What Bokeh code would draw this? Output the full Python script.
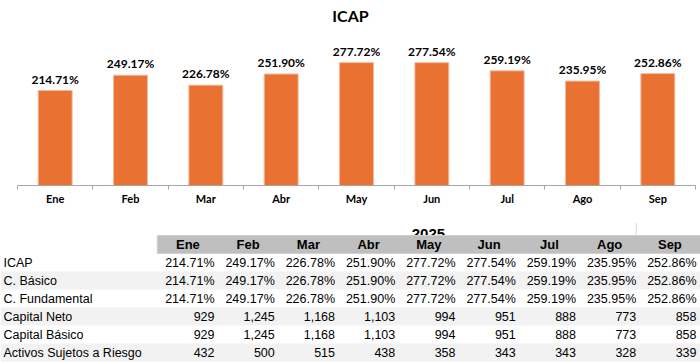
import numpy as np
from bokeh.plotting import figure
from bokeh.layouts import column
from bokeh.models import FixedTicker, Range1d, ColumnDataSource
from bokeh.core.properties import value
from bokeh.embed import file_html
from bokeh.resources import INLINE

# ---------------- data ----------------
months = ["Ene", "Feb", "Mar", "Abr", "May", "Jun", "Jul", "Ago", "Sep"]
icap = [214.71, 249.17, 226.78, 251.90, 277.72, 277.54, 259.19, 235.95, 252.86]
c_basico = [214.71, 249.17, 226.78, 251.90, 277.72, 277.54, 259.19, 235.95, 252.86]
c_fundamental = [214.71, 249.17, 226.78, 251.90, 277.72, 277.54, 259.19, 235.95, 252.86]
capital_neto = [929, 1245, 1168, 1103, 994, 951, 888, 773, 858]
capital_basico = [929, 1245, 1168, 1103, 994, 951, 888, 773, 858]
activos_riesgo = [432, 500, 515, 438, 358, 343, 343, 328, 339]
row_labels = ["ICAP", "C. Básico", "C. Fundamental", "Capital Neto",
              "Capital Básico", "Activos Sujetos a Riesgo"]
chart_title = "ICAP"
table_title = "2025"

ORANGE = "#E97132"
W = 700
n = len(months)
xs = np.arange(n) + 0.5

# ---------------- bar chart ----------------
TOP_H = 210
TOP_B = 24
BOT_B = 25
AX_LEFT = 17      # px where the category axis starts
AX_RIGHT = 5      # px left free at the right of the axis
cw = (W - AX_LEFT - AX_RIGHT) / n
frame_h = TOP_H - TOP_B - BOT_B
y_end = frame_h / 0.4424

p = figure(width=W, height=TOP_H, output_backend="svg", toolbar_location=None,
           x_range=Range1d(-AX_LEFT / cw, n + AX_RIGHT / cw),
           y_range=Range1d(0, y_end),
           y_axis_location=None,
           min_border_left=0, min_border_right=0,
           min_border_top=TOP_B, min_border_bottom=BOT_B,
           title=chart_title)
p.title.align = "center"
p.title.text_font = "Lato"
p.title.text_font_size = "16px"
p.title.text_font_style = "bold"
p.title.text_color = "black"
p.title.standoff = 0
p.outline_line_color = None
p.xgrid.visible = False
p.ygrid.visible = False

src = ColumnDataSource(dict(x=xs, top=icap,
                            lab=["{:.2f}%".format(v) for v in icap]))
p.vbar(x="x", top="top", width=0.45, bottom=0, source=src,
       fill_color=ORANGE, line_color="#F4B79A", line_width=1)
p.text(x="x", y="top", text="lab", source=src, text_align="center",
       text_baseline="bottom", y_offset=-4, text_font=value("Lato"),
       text_font_style="bold", text_font_size="12px", text_color="black")

ax = p.xaxis[0]
ax.bounds = (0, n)
ax.ticker = FixedTicker(ticks=list(xs), minor_ticks=list(range(n + 1)))
ax.major_label_overrides = {float(x): m for x, m in zip(xs, months)}
ax.major_tick_out = 0
ax.major_tick_in = 0
ax.minor_tick_out = 4
ax.minor_tick_in = 0
ax.minor_tick_line_color = "#A6A6A6"
ax.axis_line_color = "#A6A6A6"
ax.major_label_text_font = "Lato"
ax.major_label_text_font_style = "bold"
ax.major_label_text_font_size = "11px"
ax.major_label_text_color = "black"
ax.major_label_standoff = 2

# ---------------- table ----------------
TAB_H = 152
ROW_H = 18.0
colw = 60.25
x0 = -153.75 / colw
x1 = x0 + W / colw
rows = [icap, c_basico, c_fundamental, capital_neto, capital_basico, activos_riesgo]
pct_rows = [True, True, True, False, False, False]
nrows = len(rows)
y_top = -25 / ROW_H
y_bot = y_top + TAB_H / ROW_H

t = figure(width=W, height=TAB_H, output_backend="svg", toolbar_location=None,
           x_range=Range1d(x0, x1), y_range=Range1d(y_bot, y_top),
           x_axis_location=None, y_axis_location=None,
           min_border_left=0, min_border_right=0,
           min_border_top=0, min_border_bottom=0)
t.outline_line_color = None
t.xgrid.visible = False
t.ygrid.visible = False

# banded rows
band_rows = [r + 1 for r in range(nrows) if r % 2 == 1]
t.quad(left=x0, right=x1, top=band_rows,
       bottom=[r + 1 for r in band_rows], fill_color="#F2F2F2", line_color=None)

# table title (partly hidden behind header)
t.text(x=[n / 2], y=[0], text=[table_title], text_align="center",
       text_baseline="alphabetic", x_offset=3, y_offset=-2,
       text_font=value("Liberation Sans"),
       text_font_style="bold", text_font_size="15px", text_color="black")
t.segment(x0=[n - 1], x1=[n - 1], y0=[-0.72], y1=[0], line_color="#D9D9D9",
          line_width=1)

# header
t.quad(left=0.05, right=x1, top=0, bottom=1, fill_color="#BFBFBF",
       line_color="#D0D0D0", line_width=1)
t.text(x=xs, y=[0.5] * n, text=months, text_align="center",
       text_baseline="middle", x_offset=3.5, text_font=value("Liberation Sans"),
       text_font_style="bold", text_font_size="13px", text_color="black")

# row labels
t.text(x=[x0] * nrows, y=np.arange(nrows) + 1.5, text=row_labels,
       text_align="left", text_baseline="middle", x_offset=3,
       text_font=value("Liberation Sans"), text_font_size="12.5px",
       text_color="black")

# values
for r, (vals, is_pct) in enumerate(zip(rows, pct_rows)):
    labs = ["{:.2f}%".format(v) if is_pct else "{:,}".format(v) for v in vals]
    t.text(x=np.arange(n) + 1, y=[r + 1.5] * n, text=labs, text_align="right",
           text_baseline="middle", x_offset=0,
           text_font=value("Liberation Sans"), text_font_size="12.5px",
           text_color="black")

layout = column(p, t, spacing=0)
open("out.html", "w").write(file_html(layout, INLINE))
